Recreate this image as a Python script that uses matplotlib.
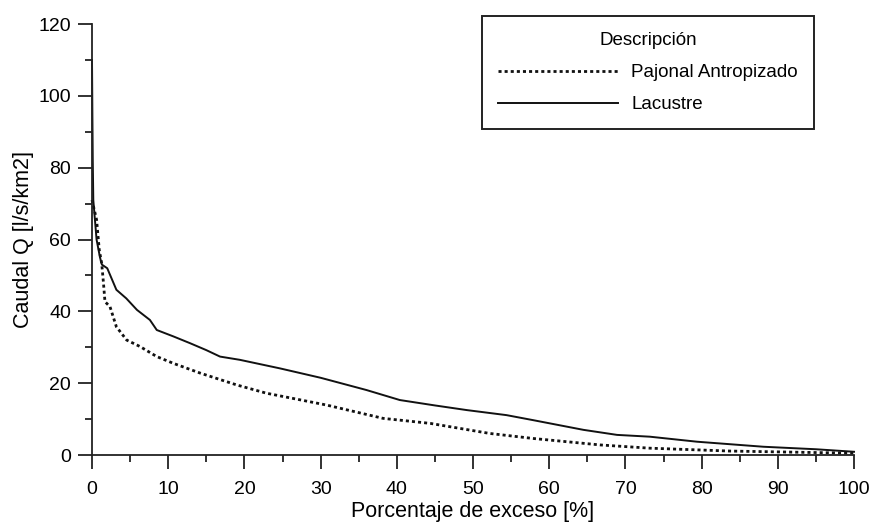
import matplotlib
matplotlib.use('Agg')
import matplotlib.pyplot as plt
from matplotlib.ticker import MultipleLocator

# curva de duracion de caudales
lac_x = [0, 0.05, 0.1, 0.17, 0.6, 1.05, 1.3, 2.0, 2.4, 3.2, 4.5, 5.9, 7.6, 8.5,
         10.7, 12.9, 15.0, 16.8, 19.4, 24.7, 30, 36.0, 40.4, 45, 49.2, 54.4,
         57.9, 64.5, 68.9, 73.2, 79.4, 88.1, 95, 100]
lac_y = [110, 95, 82, 71, 60, 55, 53, 52, 50, 46, 43.6, 40.4, 37.6, 34.8,
         33, 31.1, 29.2, 27.4, 26.5, 24.1, 21.5, 18.1, 15.3, 13.8, 12.5, 11.1,
         9.7, 7.0, 5.6, 5.1, 3.7, 2.3, 1.6, 0.9]

paj_x = [0, 0.6, 0.96, 1.27, 1.5, 1.7, 2.36, 3.2, 4.55, 6.3, 8.5, 10.7, 14.2,
         19.0, 22.9, 30.8, 38.2, 44.4, 52.2, 57.9, 66.7, 73.2, 83.7, 100]
paj_y = [71, 65.5, 57, 53.4, 48, 42.7, 41.3, 35.7, 32, 30.2, 27.4, 25.5, 22.8,
         19.5, 17.2, 13.9, 10.2, 8.8, 6.0, 4.6, 2.8, 1.9, 1.1, 0.5]

plt.rcParams['font.family'] = ['Liberation Sans', 'DejaVu Sans']
plt.rcParams['font.size'] = 14

fig = plt.figure(figsize=(8.72, 5.24), dpi=100)
ax = fig.add_axes([92 / 872, 69 / 524, 762 / 872, 431 / 524])

ax.plot(paj_x, paj_y, color='#111111', lw=2.0, linestyle=(0, (1.1, 1.1)),
        label='Pajonal Antropizado', clip_on=False)
ax.plot(lac_x, lac_y, color='#111111', lw=1.4, label='Lacustre', clip_on=False)

ax.set_xlim(0, 100)
ax.set_ylim(0, 120)
ax.xaxis.set_major_locator(MultipleLocator(10))
ax.xaxis.set_minor_locator(MultipleLocator(5))
ax.yaxis.set_major_locator(MultipleLocator(20))
ax.yaxis.set_minor_locator(MultipleLocator(10))
ax.tick_params(which='major', direction='out', length=10, width=1.3, color='#222222')
ax.tick_params(which='minor', direction='out', length=5, width=1.3, color='#222222')
ax.tick_params(axis='x', labelsize=14, pad=9)
ax.tick_params(axis='y', labelsize=14, pad=5)

for s in ['top', 'right']:
    ax.spines[s].set_visible(False)
for s in ['left', 'bottom']:
    ax.spines[s].set_linewidth(1.3)
    ax.spines[s].set_color('#222222')

ax.set_xlabel('Porcentaje de exceso [%]', fontsize=15.5, labelpad=2)
ax.set_ylabel('Caudal Q [l/s/km2]', fontsize=15.5, labelpad=3)

leg = ax.legend(title='Descripción', loc='upper right',
                bbox_to_anchor=(814 / 872, 508 / 524),
                bbox_transform=fig.transFigure,
                handlelength=6.4, fontsize=13.5, title_fontsize=13.5,
                fancybox=False, framealpha=1, edgecolor='#222222',
                borderpad=0.85, labelspacing=0.8, handletextpad=0.7,
                borderaxespad=0)
leg.get_frame().set_linewidth(1.4)

fig.savefig('out.png', dpi=100, facecolor='white')
